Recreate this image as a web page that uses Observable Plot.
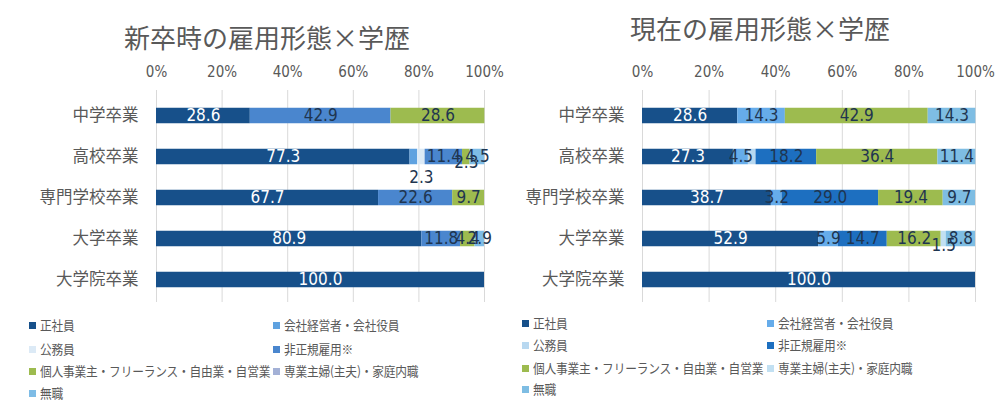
<!DOCTYPE html>
<html><head><meta charset="utf-8">
<script src="https://cdn.jsdelivr.net/npm/d3@7"></script>
<script src="https://cdn.jsdelivr.net/npm/@observablehq/plot@0.6"></script>
<style>
body{margin:0;background:#fff;}
#wrap{position:relative;width:1003px;height:406px;overflow:hidden;background:#fff;font-family:"Noto Sans CJK JP",sans-serif;color:#595959;}
.title{position:absolute;font-size:26px;line-height:30px;white-space:nowrap;transform:translateX(-50%);}
.chart{position:absolute;top:0;}
.leg{position:absolute;font-size:13px;line-height:16px;height:16px;white-space:nowrap;}
.leg i{display:inline-block;width:7px;height:7px;margin-right:4px;vertical-align:1px;}
.leg span{display:inline-block;letter-spacing:-0.2px;transform:scaleX(0.9);transform-origin:0 50%;}
</style></head>
<body><div id="wrap"></div>
<script>
const categories = ["中学卒業","高校卒業","専門学校卒業","大学卒業","大学院卒業"];
const series = ["正社員","会社経営者・会社役員","公務員","非正規雇用※","個人事業主・フリーランス・自由業・自営業","専業主婦(主夫)・家庭内職","無職"];
const xTicks = [0,20,40,60,80,100];
const titleLeft = "新卒時の雇用形態×学歴";
const titleRight = "現在の雇用形態×学歴";

// 新卒時 (series × categories)
const leftSeikoin   = [28.6, 77.3, 67.7, 80.9, 100.0];
const leftKeiei     = [0, 2.3, 0, 0, 0];
const leftKomuin    = [0, 2.3, 0, 0, 0];
const leftHiseiki   = [42.9, 11.4, 22.6, 11.8, 0];
const leftKojin     = [28.6, 2.3, 9.7, 4.4, 0];
const leftShufu     = [0, 0, 0, 0, 0];
const leftMushoku   = [0, 4.5, 0, 2.9, 0];

// 現在
const rightSeikoin  = [28.6, 27.3, 38.7, 52.9, 100.0];
const rightKeiei    = [14.3, 4.5, 3.2, 5.9, 0];
const rightKomuin   = [0, 2.3, 0, 0, 0];
const rightHiseiki  = [0, 18.2, 29.0, 14.7, 0];
const rightKojin    = [42.9, 36.4, 19.4, 16.2, 0];
const rightShufu    = [0, 0, 0, 1.5, 0];
const rightMushoku  = [14.3, 11.4, 9.7, 8.8, 0];

const leftColors  = ["#17508a","#5fa2e0","#dceaf6","#4a86ce","#9dbb4f","#a3b1d6","#7ebce6"];
const rightColors = ["#17508a","#66acea","#b8d8f0","#1d6fc0","#9dbb4f","#c2e0f2","#7ebde3"];

const numFont = "'Liberation Sans Narrow','Arial Narrow','DejaVu Sans Condensed',sans-serif";
const jpFont = "'Noto Sans CJK JP',sans-serif";

function chart({values, colors, width, marginLeft, marginRight, offsets}) {
  const rows = series.flatMap((s,i)=>categories.map((c,j)=>({cat:c, series:s, value:values[i][j]})));
  const key = d => d.series + "|" + d.cat;
  const dys = [...new Set([0, ...Object.values(offsets).filter(v => v !== null)])];
  const textMarks = dys.map(dy => Plot.text(rows, Plot.stackX({
    x: "value", y: "cat",
    text: d => {
      if (!(d.value > 0)) return null;
      const o = offsets[key(d)];
      if (o === null) return null;
      return (o === undefined ? 0 : o) === dy ? d.value.toFixed(1) : null;
    },
    fill: d => d.series === series[0] ? "#ffffff" : "#1f3550",
    dy, fontSize: 17, fontFamily: numFont
  })));
  return Plot.plot({
    width, height: 303, marginTop: 90, marginBottom: 1, marginLeft, marginRight,
    style: {background: "transparent", fontFamily: jpFont, overflow: "visible"},
    x: {domain: [0,100]},
    y: {domain: categories, range: [93.25, 300.75], padding: 0},
    color: {domain: series, range: colors},
    marks: [
      Plot.gridX(xTicks, {stroke: "#d9d9d9", strokeOpacity: 1}),
      Plot.barX(rows, Plot.stackX({x: "value", y: "cat", fill: "series", insetTop: 12.75, insetBottom: 12.75})),
      ...textMarks,
      Plot.axisX(xTicks, {anchor: "top", label: null, tickSize: 0, tickPadding: 14, tickFormat: d => d + "%", fontSize: 15, fill: "#595959", fontFamily: numFont}),
      Plot.axisY({label: null, tickSize: 0, tickPadding: 18, fontSize: 16.5, fill: "#595959", fontFamily: jpFont})
    ]
  });
}

const wrap = document.getElementById("wrap");

const left = chart({
  values: [leftSeikoin, leftKeiei, leftKomuin, leftHiseiki, leftKojin, leftShufu, leftMushoku],
  colors: leftColors, width: 500, marginLeft: 156, marginRight: 16,
  offsets: {"会社経営者・会社役員|高校卒業": null, "公務員|高校卒業": 21, "個人事業主・フリーランス・自由業・自営業|高校卒業": 6}
});
left.classList.add("chart"); left.style.left = "0px";
wrap.appendChild(left);

const right = chart({
  values: [rightSeikoin, rightKeiei, rightKomuin, rightHiseiki, rightKojin, rightShufu, rightMushoku],
  colors: rightColors, width: 503, marginLeft: 142, marginRight: 28,
  offsets: {"公務員|高校卒業": null, "専業主婦(主夫)・家庭内職|大学卒業": 7}
});
right.classList.add("chart"); right.style.left = "500px";
wrap.appendChild(right);

function addTitle(text, cx, cy) {
  const t = document.createElement("div");
  t.className = "title"; t.textContent = text;
  t.style.left = cx + "px"; t.style.top = (cy - 16) + "px";
  wrap.appendChild(t);
}
addTitle(titleLeft, 267, 38);
addTitle(titleRight, 760, 29);

function addLegend(colors, cols, rowsY) {
  series.forEach((s, i) => {
    const col = i % 2, row = Math.floor(i / 2);
    const d = document.createElement("div");
    d.className = "leg";
    d.style.left = cols[col] + "px";
    d.style.top = (rowsY[row] - 8) + "px";
    const sq = document.createElement("i");
    sq.style.background = colors[i];
    d.appendChild(sq);
    const sp = document.createElement("span");
    sp.textContent = s;
    d.appendChild(sp);
    wrap.appendChild(d);
  });
}
addLegend(leftColors, [29, 273], [325, 349, 371, 393]);
addLegend(rightColors, [522, 767], [323, 345, 368, 389]);
</script></body></html>
